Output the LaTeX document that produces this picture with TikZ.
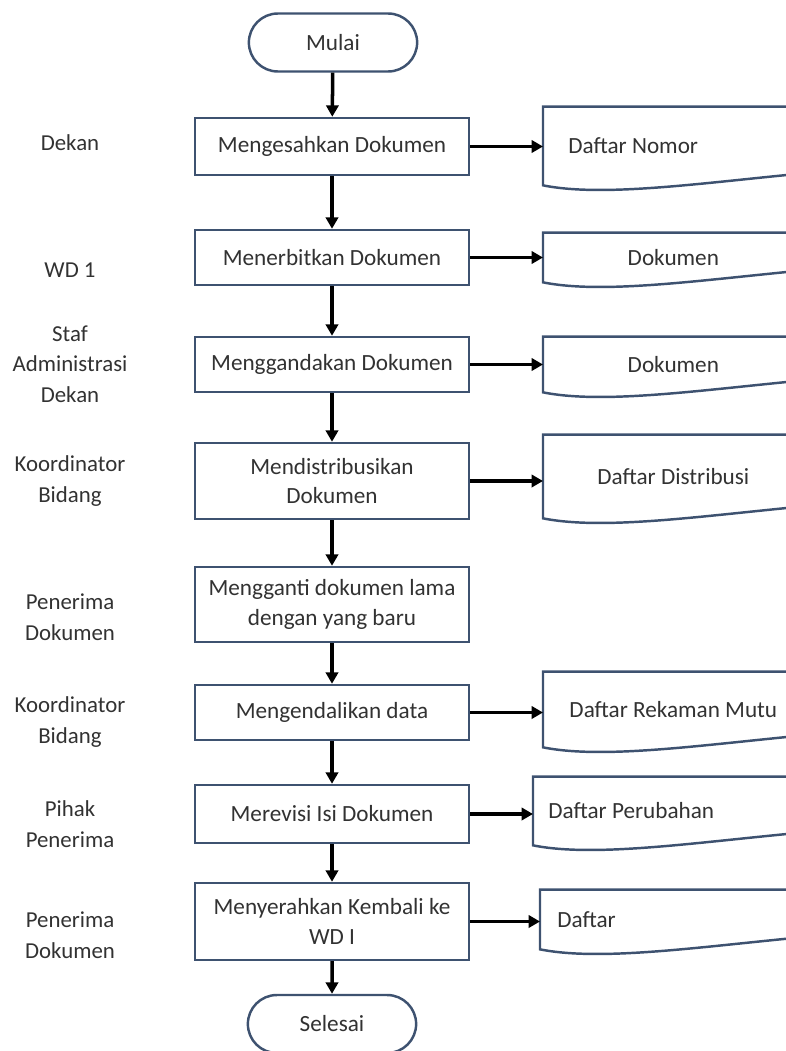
\documentclass[tikz,border=0pt]{standalone}
\usepackage{fontspec}
\setmainfont{Carlito}
\usetikzlibrary{arrows.meta, shapes.misc, calc}

\definecolor{boxline}{RGB}{62,82,112}
\definecolor{inkgray}{RGB}{50,50,50}

\tikzset{
  procbox/.style={rectangle, draw=boxline, line width=1.4pt, fill=white, minimum width=5.48cm, text=inkgray, align=center, font=\fontsize{13.2}{17}\selectfont},
  termbox/.style={rounded rectangle, draw=boxline, line width=1.4pt, fill=white, minimum width=3.6cm, minimum height=1.16cm, text=inkgray, font=\fontsize{13.2}{17}\selectfont},
  docbox/.style={rectangle, anchor=west, minimum width=5.2cm, inner ysep=0pt, text=inkgray, font=\fontsize{13.2}{17}\selectfont},
  docline/.style={draw=boxline, line width=1.4pt},
  flowarrow/.style={line width=2pt, -{Triangle[length=6.5pt,width=7pt]}},
  rolelabel/.style={align=center, text=inkgray, font=\fontsize{13}{17.5}\selectfont}
}

% document symbol with a wavy lower edge, open to the right
\newcommand{\docoutline}[1]{%
  \draw[docline] (#1.north east) -- (#1.north west) -- (#1.south west)
    .. controls +(60,12) and +(-105,10) .. ($(#1.south east)+(0,-12)$);
}

\begin{document}
\begin{tikzpicture}[x=0.02cm, y=-0.02cm]
\useasboundingbox (0,0) rectangle (786,1051);

% role labels
\node[rolelabel] (r1) at (70,143) {Dekan};
\node[rolelabel] (r2) at (70,270) {WD 1};
\node[rolelabel] (r3) at (70,364) {Staf\\Administrasi\\Dekan};
\node[rolelabel] (r4) at (70,481) {Koordinator\\Bidang};
\node[rolelabel] (r5) at (70,617) {Penerima\\Dokumen};
\node[rolelabel] (r6) at (70,722) {Koordinator\\Bidang};
\node[rolelabel] (r7) at (70,824) {Pihak\\Penerima};
\node[rolelabel] (r8) at (70,935) {Penerima\\Dokumen};

% start / end
\node[termbox] (start) at (333,42.5) {Mulai};
\node[termbox] (stop) at (332,1024) {Selesai};

% process steps
\node[procbox, minimum height=1.14cm] (b1) at (332,146.5) {Mengesahkan Dokumen};
\node[procbox, minimum height=1.10cm] (b2) at (332,257.5) {Menerbitkan Dokumen};
\node[procbox, minimum height=1.10cm] (b3) at (332,364.5) {Menggandakan Dokumen};
\node[procbox, minimum height=1.52cm] (b4) at (332,481) {Mendistribusikan\\Dokumen};
\node[procbox, minimum height=1.50cm] (b5) at (332,604.5) {Mengganti dokumen lama\\dengan yang baru};
\node[procbox, minimum height=1.10cm] (b6) at (332,712.5) {Mengendalikan data};
\node[procbox, minimum height=1.16cm] (b7) at (332,814) {Merevisi Isi Dokumen};
\node[procbox, minimum height=1.54cm] (b8) at (332,921.5) {Menyerahkan Kembali ke\\WD I};

% documents
\node[docbox, minimum height=1.56cm, text width=4.2cm, align=flush left, inner xsep=0.5cm] (d1) at (543,146) {Daftar Nomor};
\node[docbox, minimum height=0.98cm] (d2) at (543,257.5) {Dokumen};
\node[docbox, minimum height=1.10cm] (d3) at (543,364.5) {Dokumen};
\node[docbox, minimum height=1.66cm] (d4) at (543,476.5) {Daftar Distribusi};
\node[docbox, minimum height=1.50cm] (d6) at (543,709.5) {Daftar Rekaman Mutu};
\node[docbox, minimum height=1.36cm, text width=4.6cm, align=flush left, inner xsep=0.3cm] (d7) at (533,811) {Daftar Perubahan};
\node[docbox, minimum height=1.18cm, text width=4.52cm, align=flush left, inner xsep=0.34cm] (d8) at (540,919.5) {Daftar};

\foreach \n in {1,2,3,4,6,7,8}{
  \docoutline{d\n}
}

% flow arrows
\foreach \a/\b in {start/b1, b1/b2, b2/b3, b3/b4, b4/b5, b5/b6, b6/b7, b7/b8, b8/stop}{
  \draw[flowarrow] (\a) -- (\b);
}
\foreach \n in {1,2,3,4,6,7,8}{
  \draw[flowarrow] (b\n.east) -- (b\n.east -| d\n.west);
}

\end{tikzpicture}
\end{document}
